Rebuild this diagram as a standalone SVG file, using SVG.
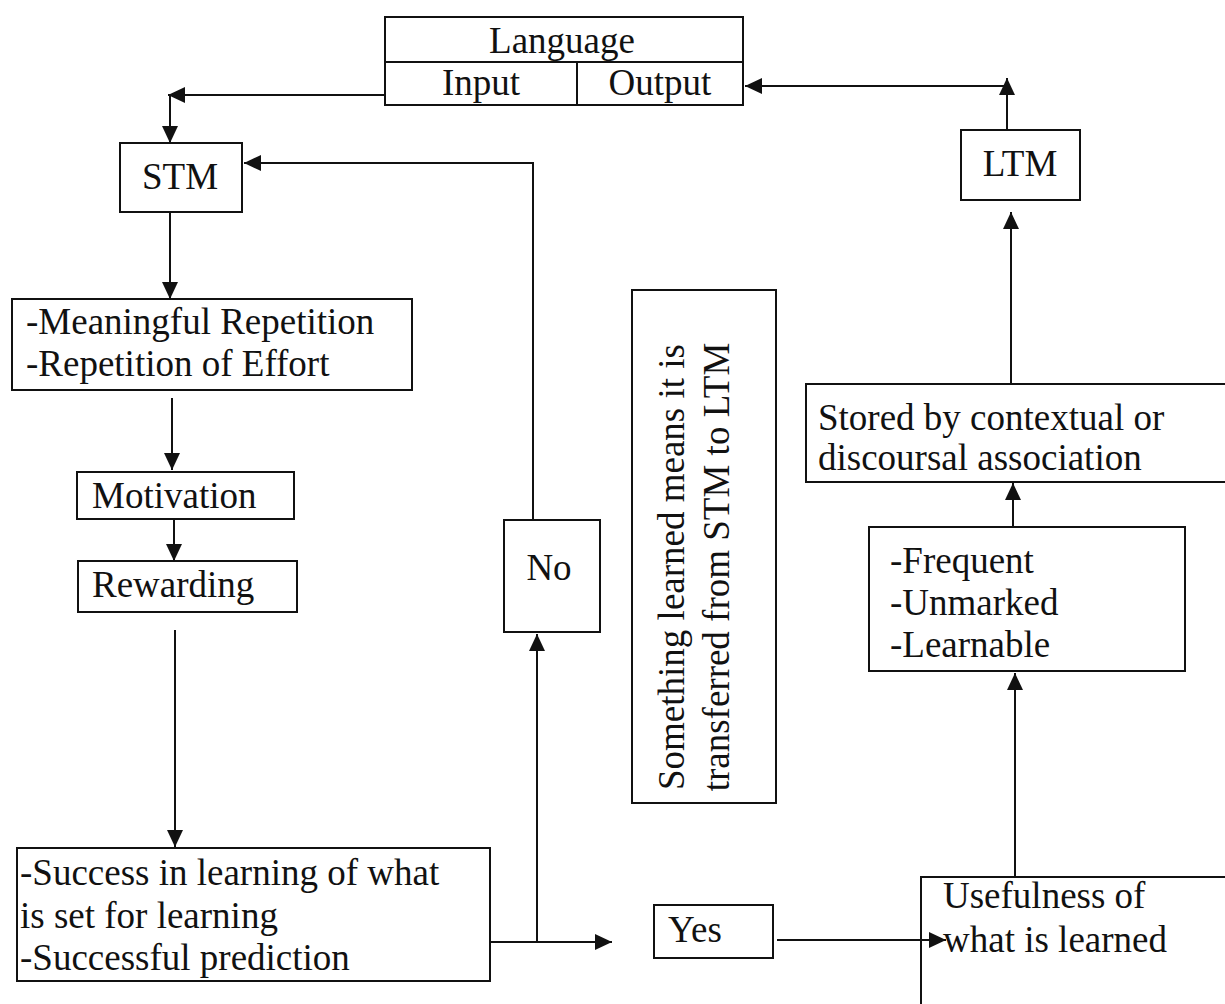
<svg xmlns="http://www.w3.org/2000/svg" width="1225" height="1004" viewBox="0 0 1225 1004">
<defs>
<style>
.box{fill:none;stroke:#111;stroke-width:2}
.ln{fill:none;stroke:#111;stroke-width:2}
.t{font-family:"Liberation Serif","Times New Roman",serif;font-size:37px;fill:#111}
.c{text-anchor:middle}
</style>
<marker id="ah" markerUnits="userSpaceOnUse" markerWidth="18" markerHeight="16" refX="17" refY="8" orient="auto">
<path d="M0,0 L17,8 L0,16 z" fill="#111"/>
</marker>
</defs>
<rect width="1225" height="1004" fill="#fff"/>

<g id="language">
<rect class="box" x="385" y="17" width="358" height="88"/>
<line class="ln" x1="385" y1="62" x2="743" y2="62"/>
<line class="ln" x1="577" y1="62" x2="577" y2="105"/>
<text class="t c" x="562" y="53">Language</text>
<text class="t c" x="481" y="95">Input</text>
<text class="t c" x="660" y="95">Output</text>
</g>

<g id="stm">
<rect class="box" x="120" y="143" width="122" height="69"/>
<text class="t c" x="180" y="189">STM</text>
</g>

<g id="ltm">
<rect class="box" x="961" y="130" width="119" height="70"/>
<text class="t c" x="1020" y="176">LTM</text>
</g>

<g id="repetition">
<rect class="box" x="12" y="299" width="400" height="91"/>
<text class="t" x="26" y="334">-Meaningful Repetition</text>
<text class="t" x="26" y="376">-Repetition of Effort</text>
</g>

<g id="motivation">
<rect class="box" x="77" y="472" width="217" height="47"/>
<text class="t" x="92" y="508">Motivation</text>
</g>

<g id="rewarding">
<rect class="box" x="78" y="561" width="219" height="51"/>
<text class="t" x="92" y="597">Rewarding</text>
</g>

<g id="success">
<rect class="box" x="17" y="848" width="473" height="133"/>
<text class="t" x="20" y="885">-Success in learning of what</text>
<text class="t" x="20" y="928">is set for learning</text>
<text class="t" x="20" y="970">-Successful prediction</text>
</g>

<g id="no">
<rect class="box" x="504" y="520" width="96" height="112"/>
<text class="t c" x="549" y="580">No</text>
</g>

<g id="transfer">
<rect class="box" x="632" y="290" width="144" height="513"/>
<text class="t c" transform="translate(684,567) rotate(-90)">Something learned means it is</text>
<text class="t c" transform="translate(729,567) rotate(-90)">transferred from STM to LTM</text>
</g>

<g id="yes">
<rect class="box" x="654" y="905" width="119" height="53"/>
<text class="t" x="668" y="942">Yes</text>
</g>

<g id="usefulness">
<rect class="box" x="921" y="877" width="330" height="160"/>
<text class="t" x="943" y="908">Usefulness of</text>
<text class="t" x="943" y="952">what is learned</text>
</g>

<g id="criteria">
<rect class="box" x="869" y="527" width="316" height="144"/>
<text class="t" x="890" y="573">-Frequent</text>
<text class="t" x="890" y="615">-Unmarked</text>
<text class="t" x="890" y="657">-Learnable</text>
</g>

<g id="stored">
<rect class="box" x="806" y="384" width="440" height="98"/>
<text class="t" x="818" y="430">Stored by contextual or</text>
<text class="t" x="818" y="470">discoursal association</text>
</g>

<g id="connectors">
<line class="ln" x1="385" y1="95" x2="168" y2="95" marker-end="url(#ah)"/>
<line class="ln" x1="170" y1="95" x2="170" y2="143" marker-end="url(#ah)"/>
<line class="ln" x1="1007" y1="130" x2="1007" y2="78" marker-end="url(#ah)"/>
<line class="ln" x1="1007" y1="86" x2="745" y2="86" marker-end="url(#ah)"/>
<line class="ln" x1="170" y1="212" x2="170" y2="299" marker-end="url(#ah)"/>
<line class="ln" x1="172" y1="398" x2="172" y2="470" marker-end="url(#ah)"/>
<line class="ln" x1="174" y1="519" x2="174" y2="561" marker-end="url(#ah)"/>
<line class="ln" x1="175" y1="630" x2="175" y2="847" marker-end="url(#ah)"/>
<line class="ln" x1="490" y1="942" x2="612" y2="942" marker-end="url(#ah)"/>
<line class="ln" x1="537" y1="942" x2="537" y2="634" marker-end="url(#ah)"/>
<polyline class="ln" points="533,520 533,163 244,163" marker-end="url(#ah)"/>
<line class="ln" x1="777" y1="940" x2="946" y2="940" marker-end="url(#ah)"/>
<line class="ln" x1="1015" y1="877" x2="1015" y2="673" marker-end="url(#ah)"/>
<line class="ln" x1="1013" y1="527" x2="1013" y2="483" marker-end="url(#ah)"/>
<line class="ln" x1="1011" y1="384" x2="1011" y2="212" marker-end="url(#ah)"/>
</g>
</svg>
